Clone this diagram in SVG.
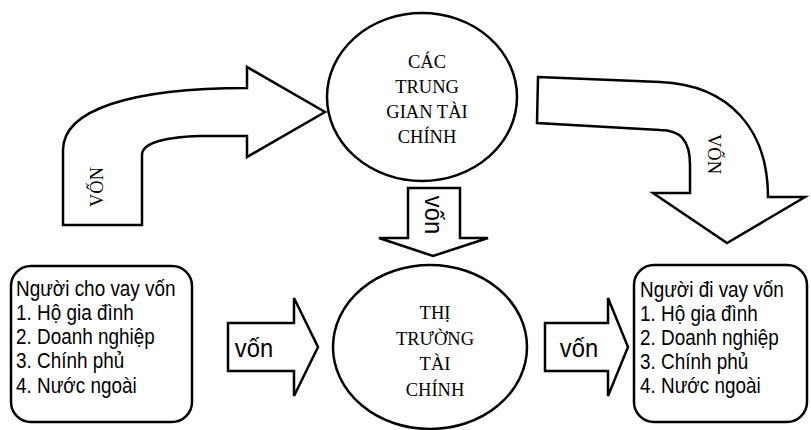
<svg xmlns="http://www.w3.org/2000/svg" width="811" height="430" viewBox="0 0 811 430">
<style>
.sh{fill:#fff;stroke:#000;stroke-width:2.5;stroke-linejoin:miter}
.serif{font-family:"Liberation Serif","Times New Roman",serif;font-size:18.5px;fill:#000}
.sans{font-family:"Liberation Sans",Arial,sans-serif;font-size:22px;fill:#000}
.vs{font-family:"Liberation Sans",Arial,sans-serif;font-size:25px;fill:#000}
</style>
<rect width="811" height="430" fill="#fff"/>
<g id="connectors">
  <g id="arrow-left-curved">
    <path class="sh" d="M63,225 L63,150 C63,110 130,88 247,88 L247,67 L325,112 L247,157 L247,136 L200,136 C165,137 142,143 142,155 L142,225 Z"/>
    <text class="serif" text-anchor="middle" transform="translate(97,187) rotate(-90)" y="6">VỐN</text>
  </g>
  <g id="arrow-right-curved">
    <path class="sh" d="M538,77 L660,82 C730,85 768,130 768,197 L805,197 L727,243 L653,193 L690,193 L690,165 C690,140 680,130 660,130 L537,123 Z"/>
    <text class="serif" text-anchor="middle" transform="translate(714,154) rotate(90)" y="6">VỐN</text>
  </g>
  <g id="arrow-down">
    <path class="sh" d="M408,188 L460,188 L460,238 L488,238 L433,256 L379,238 L408,238 Z"/>
    <text class="vs" text-anchor="middle" transform="translate(432,215) rotate(90) scale(0.95,1)" y="7">vốn</text>
  </g>
  <g id="arrow-mid-left">
    <path class="sh" d="M228,323 L294,323 L294,298 L318,347 L294,396 L294,371 L228,371 Z"/>
    <text class="vs" text-anchor="middle" transform="translate(254,357) scale(0.95,1)">vốn</text>
  </g>
  <g id="arrow-mid-right">
    <path class="sh" d="M545,323 L608,323 L608,298 L628,347 L608,396 L608,371 L545,371 Z"/>
    <text class="vs" text-anchor="middle" transform="translate(579,357) scale(0.95,1)">vốn</text>
  </g>
</g>
<g id="node-trung-gian">
  <ellipse class="sh" cx="422" cy="97" rx="95" ry="84"/>
  <text class="serif" text-anchor="middle" x="427" y="68">CÁC</text>
  <text class="serif" text-anchor="middle" x="427" y="93">TRUNG</text>
  <text class="serif" text-anchor="middle" x="427" y="118">GIAN TÀI</text>
  <text class="serif" text-anchor="middle" x="427" y="143">CHÍNH</text>
</g>
<g id="node-thi-truong">
  <ellipse class="sh" cx="430" cy="347" rx="97" ry="82"/>
  <text class="serif" text-anchor="middle" x="435" y="319">THỊ</text>
  <text class="serif" text-anchor="middle" x="435" y="345">TRƯỜNG</text>
  <text class="serif" text-anchor="middle" x="435" y="370">TÀI</text>
  <text class="serif" text-anchor="middle" x="435" y="396">CHÍNH</text>
</g>
<g id="node-cho-vay">
  <rect class="sh" x="11" y="266" width="181" height="156" rx="20" ry="20"/>
  <g transform="translate(16,0) scale(0.86,1)" class="sans">
    <text x="0" y="296">Người cho vay vốn</text>
    <text x="0" y="320">1. Hộ gia đình</text>
    <text x="0" y="344">2. Doanh nghiệp</text>
    <text x="0" y="368">3. Chính phủ</text>
    <text x="0" y="393">4. Nước ngoài</text>
  </g>
</g>
<g id="node-di-vay">
  <rect class="sh" x="634" y="265" width="173" height="157" rx="20" ry="20"/>
  <g transform="translate(640,0) scale(0.86,1)" class="sans">
    <text x="0" y="297">Người đi vay vốn</text>
    <text x="0" y="321">1. Hộ gia đình</text>
    <text x="0" y="345">2. Doanh nghiệp</text>
    <text x="0" y="369">3. Chính phủ</text>
    <text x="0" y="393">4. Nước ngoài</text>
  </g>
</g>
</svg>
